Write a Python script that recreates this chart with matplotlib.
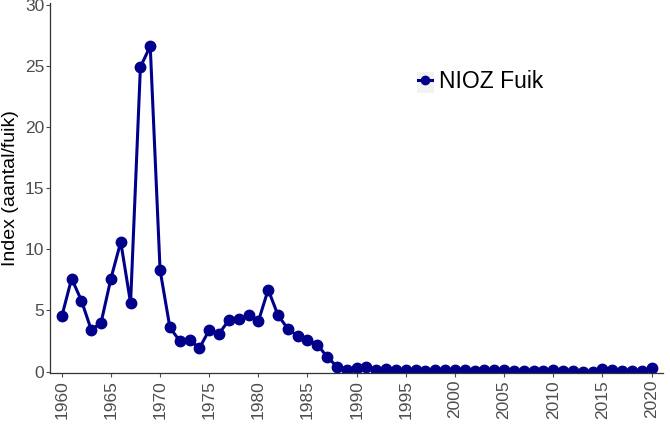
import numpy as np
from matplotlib import pyplot as plt
from matplotlib.patches import Rectangle

plt.rcParams['font.family'] = ['Liberation Sans', 'DejaVu Sans']

years = np.arange(1960, 2021)
index = [4.5, 7.6, 5.8, 3.4, 4.0, 7.6, 10.6, 5.6, 24.9, 26.6,
         8.3, 3.6, 2.5, 2.6, 1.9, 3.4, 3.1, 4.2, 4.3, 4.6,
         4.1, 6.7, 4.6, 3.5, 2.9, 2.6, 2.2, 1.2, 0.4, 0.15,
         0.3, 0.35, 0.15, 0.2, 0.15, 0.15, 0.1, 0.05, 0.1, 0.15,
         0.1, 0.1, 0.05, 0.1, 0.15, 0.15, 0.05, 0.05, 0.05, 0.05,
         0.1, 0.05, 0.05, 0.0, 0.0, 0.2, 0.15, 0.05, 0.05, 0.05,
         0.3]
xticks = np.arange(1960, 2021, 5)
yticks = np.arange(0, 31, 5)

fig = plt.figure(figsize=(6.7, 4.46), dpi=100)
ax = fig.add_axes([0.0746, 0.1637, 0.9154, 0.8293])

ax.plot(years, index, color='#00008B', lw=2.2, marker='o', ms=7.5,
        label='NIOZ Fuik')

ax.set_xlim(1958.8, 2021.2)
ax.set_ylim(-0.12, 30.12)
ax.set_xticks(xticks)
ax.set_yticks(yticks)
ax.tick_params(axis='x', labelrotation=90, pad=2)
ax.tick_params(axis='y', pad=1)
ax.tick_params(colors='#4D4D4D', labelsize=12.5, length=3, width=0.8)
for lab in ax.get_xticklabels() + ax.get_yticklabels():
    lab.set_color('#4D4D4D')

for s in ['top', 'right']:
    ax.spines[s].set_visible(False)
for s in ['left', 'bottom']:
    ax.spines[s].set_color('#333333')
    ax.spines[s].set_linewidth(0.9)

ax.set_ylabel('Index (aantal/fuik)', fontsize=14, labelpad=4)

# grey legend key background, ggplot style
ax.add_patch(Rectangle((0.6224, 0.7915), 0.025, 0.047, transform=fig.transFigure,
                       facecolor='#F2F2F2', edgecolor='none', zorder=0.5,
                       clip_on=False))
leg = ax.legend(loc='center left', bbox_to_anchor=(0.600, 0.787), frameon=False,
                fontsize=16.5, handlelength=0.6, handletextpad=0.3,
                markerscale=0.8, borderpad=0, borderaxespad=0)

fig.savefig('out.png', dpi=100)
